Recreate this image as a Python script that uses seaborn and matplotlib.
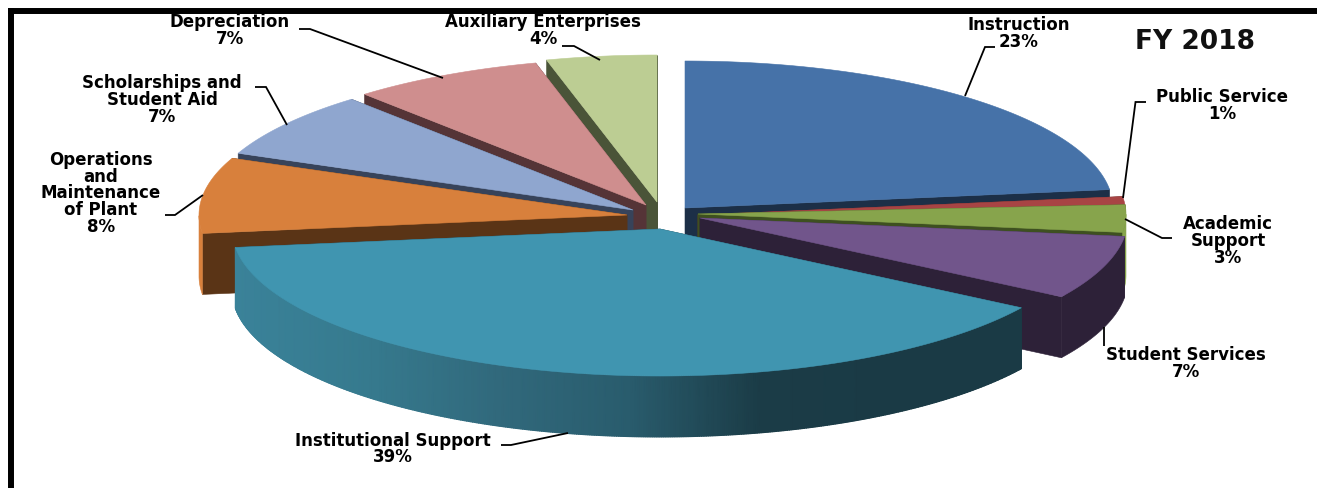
import numpy as np
import matplotlib
matplotlib.use("Agg")
import matplotlib.pyplot as plt
from matplotlib.colors import ListedColormap
import seaborn as sns

# Budget shares by functional category, clockwise from twelve o'clock
categories = ["Instruction", "Public Service", "Academic\nSupport", "Student Services",
              "Institutional Support", "Operations\nand\nMaintenance\nof Plant",
              "Scholarships and\nStudent Aid", "Depreciation", "Auxiliary Enterprises"]
shares = [23, 1, 3, 7, 39, 8, 7, 7, 4]
chart_title = "FY 2018"

# Slice styling
top_colors = ["#4672a8", "#a84444", "#87a44c", "#71558b", "#4095b0",
              "#d8803c", "#8fa6cf", "#cf8e8e", "#bccd93"]
wall_colors = ["#1c2f47", "#5a2a28", "#3e5020", "#2d2138", "#1b3c47",
               "#5a3416", "#37435a", "#553437", "#4a5438"]
rim_colors = ["#1c2f47", "#5a2a28", "#87a44c", "#2d2138", None,
              "#d8803c", "#37435a", "#553437", "#4a5438"]
rim_ramp = ListedColormap(sns.blend_palette(["#3a8299", "#367a8e", "#31697c", "#295c6d",
                                             "#1b3c47", "#1a3a45", "#1a3a45"], 256))

# Geometry of the tilted pie, in figure pixels
CENTER = (660, 215)
RX, RY, DEPTH = 428, 147, 61
EXPLODE = [(25, -7), (38, 0), (38, -1), (40, 3), (0, 14), (-33, 0), (-27, -5), (-14, -10), (-3, -13)]
# Back-to-front painting order: left side, then right side, then the front slice
DRAW_ORDER = [8, 7, 6, 5, 0, 1, 2, 3, 4]

# Label centres and leader polylines
LABEL_POS = [(1019, 33.5), (1222, 105.5), (1228, 241), (1186, 363.5), (393, 449),
             (101, 193.5), (162, 100), (230, 30.5), (543, 30.5)]
LEADERS = [[(995, 47), (985, 47), (965, 96)],
           [(1146, 102), (1135.5, 102), (1123, 198)],
           [(1172, 238), (1162, 238), (1125, 219)],
           [(1104, 346), (1104, 327)],
           [(501, 445), (511, 445), (568, 433)],
           [(165, 215), (175, 215), (203, 195)],
           [(255, 87), (266, 87), (287, 125)],
           [(299, 29), (310, 29), (443, 78)],
           [(562, 46), (574, 46), (600, 60)]]

sns.set_theme(style="white")
plt.rcParams["font.family"] = ["DejaVu Sans"]

fig = plt.figure(figsize=(13.17, 4.88), dpi=100, facecolor="white")
ax = fig.add_axes([0, 0, 1, 1])
ax.set_xlim(0, 1317)
ax.set_ylim(488, 0)
ax.set_xticks([])
ax.set_yticks([])

# Heavy frame along the left and top edges
for side in ("right", "bottom"):
    ax.spines[side].set_visible(False)
ax.spines["left"].set_position(("data", 11))
ax.spines["top"].set_position(("data", 11))
ax.spines["left"].set_bounds(8, 488)
ax.spines["top"].set_bounds(8, 1317)
for side in ("left", "top"):
    ax.spines[side].set_linewidth(4.3)
    ax.spines[side].set_color("black")
    ax.spines[side].set_capstyle("butt")
    ax.spines[side].set_zorder(0)

# Rounded shares fall one point short of 100; the four slices after the
# largest one absorb it so that the circle closes.
weights = np.array(shares, dtype=float)
weights[5:] *= (100 - weights[:5].sum()) / weights[5:].sum()
edges = np.deg2rad(np.cumsum(np.r_[0, weights]) * 3.6)


def rim_points(ox, oy, t):
    return ox + RX * np.sin(t), oy - RY * np.cos(t)


def paint(xs, ys, color):
    ax.fill(xs, ys, facecolor=color, edgecolor=color, linewidth=0.4)


for i in DRAW_ORDER:
    ox = CENTER[0] + EXPLODE[i][0]
    oy = CENTER[1] + EXPLODE[i][1]
    t = np.linspace(edges[i], edges[i + 1], max(int(shares[i] * 12), 8))
    xs, ys = rim_points(ox, oy, t)

    # Radial walls below the two straight edges
    for x_end, y_end in ((xs[0], ys[0]), (xs[-1], ys[-1])):
        paint([ox, x_end, x_end, ox], [oy, y_end, y_end + DEPTH, oy + DEPTH], wall_colors[i])

    # Outer wall: only the part that faces forward is seen
    front = (t >= np.pi / 2) & (t <= 3 * np.pi / 2)
    if front.sum() > 1:
        fx, fy = xs[front], ys[front]
        if rim_colors[i] is None:
            # Shaded rim of the front slice, lighter on the left
            X = np.vstack([fx, fx])
            Y = np.vstack([fy, fy + DEPTH])
            C = np.vstack([fx, fx])
            ax.pcolormesh(X, Y, C, shading="gouraud", cmap=rim_ramp, vmin=fx.min(), vmax=fx.max())
        else:
            paint(np.r_[fx, fx[::-1]], np.r_[fy, fy[::-1] + DEPTH], rim_colors[i])

    # Top face of the slice
    paint(np.r_[ox, xs], np.r_[oy, ys], top_colors[i])

# Leader lines and labels
for name, value, (lx, ly), path in zip(categories, shares, LABEL_POS, LEADERS):
    px, py = zip(*path)
    ax.plot(px, py, color="black", lw=1.3, solid_capstyle="butt", solid_joinstyle="miter")
    ax.text(lx, ly, f"{name}\n{value}%", ha="center", va="center", fontsize=12,
            fontweight="bold", color="black", linespacing=0.9, family="DejaVu Sans")

ax.text(1195, 42, chart_title, ha="center", va="center", fontsize=19,
        fontweight="bold", color="#111111", family="DejaVu Sans")

fig.savefig("out.png", dpi=100, facecolor="white")
